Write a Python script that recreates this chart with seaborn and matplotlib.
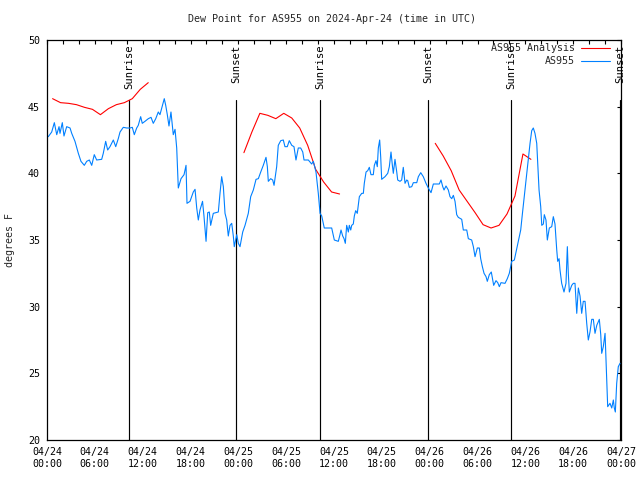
import numpy as np
import pandas as pd
import matplotlib
matplotlib.use("Agg")
import matplotlib.pyplot as plt
import matplotlib.dates as mdates
import seaborn as sns

# ---------------- data ----------------
start = pd.Timestamp("2024-04-24 00:00")

obs_hours = [0.16, 0.59, 0.92, 1.22, 1.51, 1.63, 1.92, 2.13, 2.47, 2.89, 3.10, 3.51, 3.93, 4.26, 4.68,
             4.98, 5.31, 5.61, 5.93, 6.23, 6.86, 7.06, 7.36, 7.61, 7.90, 8.32, 8.62, 8.94, 9.16, 9.57,
             10.00, 10.41, 10.70, 10.95, 11.25, 11.45, 11.75, 11.95, 12.29, 12.71, 13.05, 13.33, 13.64,
             13.96, 14.17, 14.39, 14.71, 14.89, 15.09, 15.30, 15.55, 15.84, 16.06, 16.27, 16.47, 16.81,
             17.19, 17.44, 17.56, 17.94, 18.35, 18.57, 18.78, 18.98, 19.19, 19.51, 19.69, 19.95, 20.16,
             20.36, 20.53, 20.86, 21.49, 21.70, 21.91, 22.12, 22.33, 22.54, 22.74, 22.96, 23.17, 23.37,
             23.49, 23.80, 24.00, 24.21, 24.55, 24.84, 25.25, 25.55, 25.88, 26.22, 26.51, 26.81, 27.13,
             27.47, 27.64, 27.76, 28.06, 28.31, 28.48, 28.81, 29.01, 29.32, 29.64, 29.85, 30.14, 30.39,
             30.70, 30.98, 31.23, 31.52, 31.82, 32.08, 32.24, 32.78, 33.20, 33.41, 33.74, 34.03, 34.25,
             34.46, 34.78, 35.71, 36.04, 36.54, 36.75, 36.88, 37.09, 37.26, 37.42, 37.59, 37.80, 37.92,
             38.10, 38.22, 38.42, 38.55, 38.72, 38.92, 39.18, 39.48, 39.68, 39.80, 40.02, 40.23, 40.43,
             40.64, 40.93, 41.06, 41.27, 41.43, 41.56, 41.73, 41.86, 41.98, 42.40, 42.74, 42.94, 43.15,
             43.32, 43.44, 43.65, 43.87, 43.99, 44.28, 44.49, 44.69, 44.91, 45.12, 45.25, 45.45, 45.75,
             45.95, 46.38, 46.58, 46.88, 47.20, 47.54, 47.83, 48.17, 48.46, 49.21, 49.42, 49.64, 49.80,
             50.05, 50.34, 50.55, 50.77, 50.97, 51.18, 51.39, 51.59, 52.02, 52.22, 52.65, 52.85, 53.27,
             53.48, 53.69, 53.98, 54.23, 54.40, 54.61, 54.82, 55.07, 55.23, 55.48, 55.73, 55.91, 56.03,
             56.32, 56.54, 56.74, 56.95, 57.45, 57.74, 57.99, 58.29, 58.62, 58.83, 59.12, 59.42, 59.62,
             59.87, 60.09, 60.34, 60.59, 60.80, 61.00, 61.21, 61.43, 61.72, 61.93, 62.06, 62.26, 62.38,
             62.59, 62.76, 63.01, 63.31, 63.51, 63.72, 63.94, 64.06, 64.23, 64.35, 64.56, 64.85, 65.10,
             65.27, 65.39, 65.52, 65.82, 66.02, 66.23, 66.45, 66.65, 66.86, 67.07, 67.27, 67.49, 67.70,
             67.90, 68.11, 68.33, 68.53, 68.74, 68.96, 69.28, 69.46, 69.58, 69.78, 70.00, 70.12, 70.25,
             70.33, 70.62, 70.84, 71.04, 71.16, 71.29, 71.46, 71.66, 71.88]

obs_dewpt = [42.75, 43.1, 43.8, 42.9, 43.5, 43.0, 43.8, 42.8, 43.5, 43.4, 43.0, 42.4, 41.5, 40.9, 40.6,
             40.9, 41.0, 40.6, 41.4, 41.0, 41.05, 41.5, 42.4, 41.75, 42.0, 42.5, 42.0, 42.6, 43.1, 43.45,
             43.4, 43.4, 43.45, 42.9, 43.4, 43.6, 44.25, 43.75, 43.9, 44.1, 44.2, 43.75, 44.1,
             44.6, 44.4, 44.9, 45.6, 45.1, 44.4, 43.55, 44.6, 42.9, 43.3, 41.9, 38.9, 39.6,
             39.9, 40.6, 37.75, 37.9, 38.6, 38.8, 37.4, 36.5, 37.25, 37.9, 36.8, 34.9, 37.05,
             37.1, 36.1, 37.0, 37.1, 38.5, 39.75, 39.0, 37.0, 36.5, 35.3, 36.1, 36.25, 35.3,
             34.5, 35.4, 34.75, 34.5, 35.6, 36.1, 37.0, 38.25, 38.75, 39.55, 39.6, 40.1, 40.6,
             41.2, 40.5, 39.4, 39.6, 39.5, 39.1, 40.5, 42.1, 42.45, 42.5, 42.0, 42.0, 42.45,
             42.1, 42.0, 41.0, 41.9, 41.9, 41.6, 41.0, 41.0, 40.7, 40.9, 40.1, 38.5, 37.0,
             36.8, 35.9, 35.9, 35.0, 34.9, 35.4, 35.75, 35.3, 35.1, 34.75, 36.1, 35.6, 36.1,
             35.75, 36.1, 36.2, 36.8, 37.2, 37.0, 38.25, 38.5, 38.5, 39.25, 40.1, 40.2, 40.45,
             39.9, 39.9, 40.6, 40.95, 40.5, 41.9, 42.5, 41.2, 39.55, 39.75, 40.0, 40.5, 41.6,
             40.6, 40.0, 41.05, 40.1, 39.5, 39.4, 39.5, 40.45, 39.25, 39.5, 39.45, 38.95, 39.0,
             39.3, 39.3, 39.75, 40.05, 39.75, 39.25, 38.9, 38.55, 39.2, 39.2, 39.5, 39.0, 38.75,
             39.05, 38.75, 38.25, 38.1, 38.35, 37.9, 36.9, 36.7, 36.55, 35.75, 35.75, 35.1, 35.0,
             34.5, 33.75, 34.4, 34.4, 33.6, 33.0, 32.5, 32.25, 31.9, 32.4, 32.6, 32.0, 31.6,
             31.95, 31.8, 31.5, 31.8, 31.75, 32.1, 32.5, 33.4, 33.5, 34.1, 34.9, 35.75, 36.9,
             38.25, 39.5, 40.9, 42.25, 43.2, 43.4, 43.0, 42.25, 38.75, 37.5, 36.1, 36.2, 36.9,
             36.5, 35.0, 35.9, 36.0, 36.75, 36.2, 34.25, 33.4, 33.6, 32.75, 31.75, 31.1, 31.75,
             34.5, 32.5, 31.1, 31.6, 31.75, 31.75, 29.5, 31.4, 30.8, 29.5, 30.4, 30.4, 28.75,
             27.5, 28.1, 29.05, 29.05, 28.0, 28.6, 29.05, 27.9, 26.5, 27.0, 28.0, 26.0, 23.9,
             22.5, 22.75, 22.4, 23.0, 22.4, 22.1, 24.25, 25.5, 25.75]

ana_hours = [0.7, 1.7, 2.7, 3.7, 4.7, 5.7, 6.7, 7.7, 8.7, 9.7, 10.7, 11.7, 12.7,
             24.7, 25.7, 26.7, 27.7, 28.7, 29.7, 30.7, 31.7, 32.7, 33.7, 34.7, 35.7, 36.7,
             48.7, 49.7, 50.7, 51.7, 52.7, 53.7, 54.7, 55.7, 56.7, 57.7, 58.7, 59.7, 60.7]
ana_dewpt = [45.6, 45.3, 45.25, 45.15, 44.95, 44.8, 44.4, 44.85, 45.15, 45.3, 45.6, 46.3, 46.8,
             41.55, 43.1, 44.5, 44.35, 44.1, 44.5, 44.15, 43.4, 42.1, 40.3, 39.35, 38.6, 38.45,
             42.25, 41.3, 40.2, 38.75, 37.9, 37.05, 36.15, 35.9, 36.1, 36.95, 38.3, 41.45, 41.05]
ana_run = [1] * 13 + [2] * 13 + [3] * 13

sun_hours = [10.32, 23.71, 34.25, 47.83, 58.24, 71.88]
sun_labels = ["Sunrise", "Sunset", "Sunrise", "Sunset", "Sunrise", "Sunset"]

y_ticks = [20, 25, 30, 35, 40, 45, 50]

# ---------------- frame ----------------
obs = pd.DataFrame({"time": start + pd.to_timedelta(obs_hours, unit="h"),
                    "dewpt": obs_dewpt, "series": "AS955", "run": 0})
ana = pd.DataFrame({"time": start + pd.to_timedelta(ana_hours, unit="h"),
                    "dewpt": ana_dewpt, "series": "AS955 Analysis", "run": ana_run})
df = pd.concat([ana, obs], ignore_index=True)

sns.set_theme(style="white")
plt.rcParams["font.family"] = ["DejaVu Sans Mono"]
plt.rcParams["font.size"] = 7.2

fig = plt.figure(figsize=(6.4, 4.8), dpi=100)
ax = fig.add_axes([47 / 640, 40 / 480, 574 / 640, 400 / 480])

sns.lineplot(data=df, x="time", y="dewpt", hue="series", units="run", estimator=None,
             hue_order=["AS955 Analysis", "AS955"],
             palette={"AS955 Analysis": "#ff0000", "AS955": "#0080ff"},
             linewidth=0.8, ax=ax)

# sunrise / sunset markers
for h, lab in zip(sun_hours, sun_labels):
    t = start + pd.Timedelta(hours=h)
    ax.plot([t, t], [20, 45.5], color="black", lw=0.85, zorder=1)
    ax.text(t, 49.65, lab, rotation=90, ha="center", va="top", fontsize=7.6,
            color="black", clip_on=False)

ax.set_xlim(start, start + pd.Timedelta(hours=72))
ax.set_ylim(20, 50)
ax.set_yticks(y_ticks)
ax.set_yticklabels([str(v) for v in y_ticks])
ax.xaxis.set_major_locator(mdates.HourLocator(byhour=[0, 6, 12, 18]))
ax.xaxis.set_minor_locator(mdates.HourLocator(interval=2))
ax.xaxis.set_major_formatter(mdates.DateFormatter("%m/%d\n%H:%M"))
ax.tick_params(which="both", direction="in", top=True, right=True, length=3,
               width=0.8, color="black", labelsize=7.2, labelcolor="black")
ax.tick_params(axis="x", which="major", pad=5)
ax.tick_params(axis="y", which="major", pad=5)
for lab in ax.get_xticklabels():
    lab.set_linespacing(1.25)
for s in ax.spines.values():
    s.set_color("black")
    s.set_linewidth(0.9)
ax.set_xlabel("")
ax.set_ylabel("")

fig.text(10 / 640, 0.5, "degrees F", rotation=90, ha="center", va="center", fontsize=7.2)
fig.text(332 / 640, 1 - 19 / 480, "Dew Point for AS955 on 2024-Apr-24 (time in UTC)",
         ha="center", va="center", fontsize=7.2)

handles, labels = ax.get_legend_handles_labels()
ax.legend(handles, labels, loc="upper right", bbox_to_anchor=(610 / 640, 1 - 43 / 480),
          bbox_transform=fig.transFigure, frameon=False, markerfirst=False,
          borderaxespad=0, borderpad=0, handlelength=2.9, handletextpad=0.6,
          labelspacing=0.3, fontsize=7.2)

fig.savefig("out.png", dpi=100, facecolor="white")
